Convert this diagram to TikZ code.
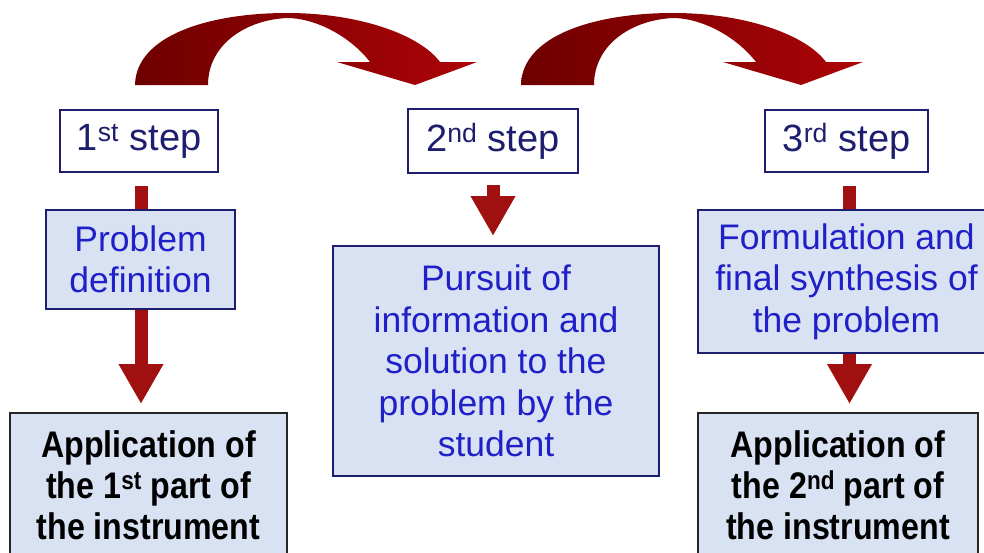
\documentclass[tikz,border=0pt]{standalone}
\usepackage{fontspec}
\setmainfont{Liberation Sans}
\newfontfamily\narrowbold[FakeStretch=0.87]{Liberation Sans Bold}
\usetikzlibrary{arrows.meta,calc}
\pgfdeclarelayer{background}
\pgfsetlayers{background,main}
\definecolor{navy}{RGB}{30,30,110}
\definecolor{boxblue}{RGB}{32,32,200}
\definecolor{boxfill}{RGB}{216,226,242}
\definecolor{arrowred}{RGB}{160,16,16}
\definecolor{curvedark}{RGB}{110,0,0}
\definecolor{curvelight}{RGB}{172,4,8}
\tikzset{
  stepbox/.style={draw=navy, line width=2pt, fill=white, text=navy, inner sep=0pt,
    font=\fontsize{38}{44}\selectfont},
  bluebox/.style={draw=navy, line width=2pt, fill=boxfill, text=boxblue, inner sep=0pt,
    align=center, font=\fontsize{35.5}{41.5}\selectfont},
  appbox/.style={draw=black!85, line width=2pt, fill=boxfill, text=black, inner sep=0pt,
    align=center, font=\narrowbold\fontsize{37}{41}\selectfont},
  varrow/.style={draw=arrowred, line width=13pt,
    -{Triangle[width=42pt,length=40pt]}},
  curvearrow/.style={left color=curvedark, right color=curvelight, draw=none}
}
\begin{document}
\begin{tikzpicture}[x=1pt,y=-1pt]
\useasboundingbox (0,0) rectangle (984,552);
\clip (0,0) rectangle (984,552);

% curved arrows
\foreach \dx in {0,386}{
\begin{scope}[xshift=\dx pt]
\path[curvearrow] (135,85) .. controls (136,35) and (210,13) .. (287,13)
  .. controls (360,13) and (420,35) .. (440,62)
  -- (477,62) -- (415,85) -- (337,62) -- (370,62)
  .. controls (350,36) and (315,18) .. (287,18)
  .. controls (245,20) and (208,45) .. (208,85) -- cycle;
\end{scope}}

% step labels
\node[stepbox, minimum width=158, minimum height=62] (s1) at (139,141) {1\textsuperscript{st} step};
\node[stepbox, minimum width=170, minimum height=64] (s2) at (493,141) {2\textsuperscript{nd} step};
\node[stepbox, minimum width=163, minimum height=62] (s3) at (846.5,141) {3\textsuperscript{rd} step};

% content boxes
\node[bluebox, minimum width=189, minimum height=99] (pd) at (140.5,259.5) {Problem\\definition};
\node[bluebox, minimum width=326, minimum height=230] (pu) at (496,361) {Pursuit of\\information and\\solution to the\\problem by the\\student};
\node[bluebox, minimum width=297, minimum height=143] (fo) at (846.5,281.5) {Formulation and\\final synthesis of\\the problem};
\node[appbox, minimum width=277, minimum height=144] (a1) at (148.5,485) {Application of\\the 1\textsuperscript{st} part of\\the instrument};
\node[appbox, minimum width=280, minimum height=144] (a2) at (838,485) {Application of\\the 2\textsuperscript{nd} part of\\the instrument};

% arrow start points
\coordinate (c1) at ([xshift=2pt,yshift=-13pt]s1.south);
\coordinate (c2) at ([yshift=-11pt]s2.south);
\coordinate (c3) at ([xshift=3pt,yshift=-13pt]s3.south);
\coordinate (e1) at ([yshift=8pt]a1.north -| c1);
\coordinate (e2) at ([yshift=9pt]pu.north -| c2);
\coordinate (e3) at ([yshift=8pt]a2.north -| c3);

% vertical arrows (behind boxes)
\begin{pgfonlayer}{background}
\draw[varrow] (c1) -- (e1);
\draw[varrow] (c2) -- (e2);
\draw[varrow] (c3) -- (e3);
\end{pgfonlayer}
\end{tikzpicture}
\end{document}
